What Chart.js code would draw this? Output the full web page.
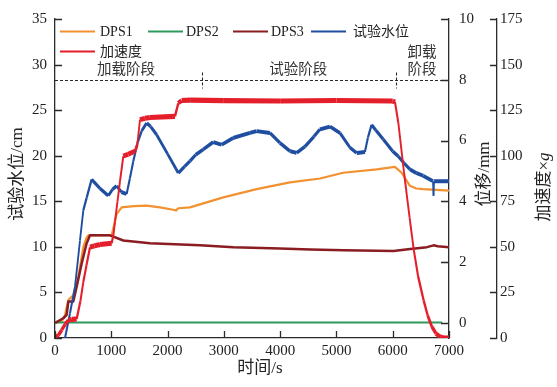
<!DOCTYPE html>
<html>
<head>
<meta charset="utf-8">
<script src="https://cdn.jsdelivr.net/npm/chart.js@4.4.0/dist/chart.umd.min.js"></script>
<style>
  html, body { margin: 0; padding: 0; background: #fff; }
  #wrap { width: 557px; height: 387px; }
</style>
</head>
<body>
<div id="wrap"><canvas id="chart" width="557" height="387"></canvas></div>
<script>
// tick values of the four axes
const timeTicks = [0, 1000, 2000, 3000, 4000, 5000, 6000, 7000];
const levelTicks = [0, 5, 10, 15, 20, 25, 30, 35];
const dispTicks = [0, 2, 4, 6, 8, 10];
const accTicks = [0, 25, 50, 75, 100, 125, 150, 175];

// DPS1 displacement (mm)
const dps1Time = [0, 120, 178, 237, 325, 414, 503, 560, 592, 1007, 1095, 1184, 1400, 1628, 1865, 2100, 2150, 2191, 2398, 2990, 3582, 4174, 4707, 5121, 5714, 6039, 6158, 6306, 6420, 6542, 7000];
const dps1Value = [0, 0.05, 0.26, 0.75, 0.91, 1.51, 2.49, 2.8, 2.88, 2.88, 3.58, 3.8, 3.84, 3.86, 3.8, 3.72, 3.7, 3.77, 3.8, 4.13, 4.4, 4.62, 4.75, 4.94, 5.05, 5.13, 4.94, 4.51, 4.42, 4.4, 4.35];

// DPS2 displacement (mm)
const dps2Time = [0, 2000, 4000, 6880];
const dps2Value = [0.01, 0.01, 0.01, 0.01];

// DPS3 displacement (mm)
const dps3Time = [0, 148, 207, 237, 325, 385, 474, 560, 622, 977, 1214, 1687, 2575, 3168, 3996, 4535, 5127, 6015, 6311, 6607, 6726, 6800, 7000];
const dps3Value = [0, 0.15, 0.26, 0.7, 0.7, 1.19, 1.95, 2.6, 2.88, 2.88, 2.71, 2.62, 2.55, 2.49, 2.45, 2.41, 2.39, 2.36, 2.43, 2.49, 2.55, 2.52, 2.49];

// test water level (cm)
const levelTime = [178, 266, 355, 444, 503, 563, 651, 800, 947, 1020, 1095, 1180, 1273, 1330, 1391, 1470, 1539, 1628, 1700, 1806, 2000, 2191, 2300, 2398, 2500, 2635, 2812, 2960, 3168, 3464, 3582, 3819, 3996, 4174, 4293, 4440, 4600, 4707, 4885, 5062, 5240, 5359, 5506, 5560, 5625, 5700, 5831, 6000, 6098, 6200, 6306, 6420, 6542, 6715, 6725, 6735, 6897, 7000];
const levelValue = [0, 2.7, 5.6, 10.7, 14, 15.4, 17.4, 16.4, 15.6, 16.3, 16.7, 16.0, 15.8, 17.5, 19.4, 21.5, 22.7, 23.6, 23.2, 22.3, 20.2, 18.1, 18.8, 19.4, 20.1, 20.7, 21.5, 21.2, 21.95, 22.5, 22.7, 22.5, 21.4, 20.5, 20.3, 21.0, 22.1, 22.9, 23.2, 22.5, 20.9, 20.3, 20.4, 22, 23.4, 22.8, 21.8, 20.5, 19.95, 19.2, 18.5, 18.1, 17.8, 17.2, 15.6, 17.2, 17.2, 17.2];

// acceleration (g)
const accTime = [0, 60, 120, 180, 237, 300, 385, 450, 503, 560, 622, 700, 800, 1007, 1040, 1066, 1110, 1155, 1214, 1300, 1421, 1462, 1510, 1600, 1687, 2131, 2191, 2250, 2400, 3000, 4000, 5000, 6000, 6040, 6100, 6200, 6300, 6371, 6450, 6549, 6620, 6696, 6770, 6844, 6900, 7000];
const accValue = [0, 1.5, 4.4, 7.5, 9.8, 10.2, 10.4, 20, 30.7, 40, 49.8, 50.5, 51.3, 52, 57, 64, 75, 86, 99.8, 100.8, 102.5, 106, 119.8, 120.5, 121, 121.6, 128.8, 130.3, 130.5, 130.2, 130, 130.3, 130, 129.5, 118, 91, 66, 49, 34, 20.7, 12.5, 6.2, 2.4, 0.6, 0, 0];

const seriesNames = ['DPS1', 'DPS2', 'DPS3', '试验水位', '加速度'];
const phaseNames = ['加载阶段', '试验阶段', '卸载', '阶段'];

const serif = "'Liberation Serif', 'Times New Roman', 'Noto Sans CJK SC', serif";
const axisColor = '#2b2b2b';

function pts(t, v) {
    return t.map((x, i) => ({ x: x, y: v[i] }));
}

// noisy records look thicker where the trace runs flat
function slopeWidth(base, extra) {
    return ctx => {
        const dx = Math.abs(ctx.p1.x - ctx.p0.x);
        const dy = Math.abs(ctx.p1.y - ctx.p0.y);
        const len = Math.hypot(dx, dy) || 1;
        return base + extra * dx / len;
    };
}

function fixTicks(values) {
    return scale => { scale.ticks = values.map(v => ({ value: v })); };
}

const decorPlugin = {
    id: 'decor',
    afterDraw(chart) {
        const ctx = chart.ctx;
        const area = chart.chartArea;
        const sx = chart.scales.x, sy = chart.scales.y, sd = chart.scales.yDisp, sa = chart.scales.yAcc;

        // inward tick marks
        ctx.save();
        ctx.strokeStyle = axisColor;
        ctx.lineWidth = 1.3;
        ctx.beginPath();
        timeTicks.forEach(v => {
            const p = Math.round(sx.getPixelForValue(v)) + 0.5;
            ctx.moveTo(p, area.bottom); ctx.lineTo(p, area.bottom - 7);
        });
        levelTicks.forEach(v => {
            const p = Math.round(sy.getPixelForValue(v)) + 0.5;
            ctx.moveTo(area.left, p); ctx.lineTo(area.left + 7, p);
        });
        dispTicks.forEach(v => {
            const p = Math.round(sd.getPixelForValue(v)) + 0.5;
            ctx.moveTo(sd.left, p); ctx.lineTo(sd.left - 8, p);
        });
        accTicks.forEach(v => {
            const p = Math.round(sa.getPixelForValue(v)) + 0.5;
            ctx.moveTo(sa.left, p); ctx.lineTo(sa.left - 7, p);
        });
        ctx.stroke();

        // phase divider
        const yLine = Math.round(sd.getPixelForValue(8)) + 0.5;
        ctx.setLineDash([3, 2]);
        ctx.lineWidth = 1.1;
        ctx.beginPath();
        ctx.moveTo(area.left, yLine); ctx.lineTo(area.right, yLine);
        [2610, 6050].forEach(t => {
            const p = Math.round(sx.getPixelForValue(t)) + 0.5;
            ctx.moveTo(p, yLine - 8); ctx.lineTo(p, yLine + 8);
        });
        ctx.stroke();
        ctx.setLineDash([]);

        ctx.fillStyle = '#333';
        ctx.font = '14.5px ' + serif;
        ctx.textAlign = 'center';
        ctx.textBaseline = 'middle';
        ctx.fillText(phaseNames[0], sx.getPixelForValue(1260), yLine - 10);
        ctx.fillText(phaseNames[1], sx.getPixelForValue(4320), yLine - 10);
        ctx.fillText(phaseNames[2], sx.getPixelForValue(6520), yLine - 27);
        ctx.fillText(phaseNames[3], sx.getPixelForValue(6520), yLine - 10);

        // legend
        const slots = [[60, 31.5], [148, 31.5], [233, 31.5], [311, 31.5], [60, 51.5]];
        const textGap = [5, 3, 3, 7, 5];
        ctx.textAlign = 'left';
        ctx.font = '14px ' + serif;
        chart.data.datasets.forEach(ds => {
            const i = seriesNames.indexOf(ds.label);
            const [lx, ly] = slots[i];
            ctx.strokeStyle = ds.borderColor;
            ctx.lineWidth = 2;
            ctx.beginPath();
            ctx.moveTo(lx, ly); ctx.lineTo(lx + 35, ly);
            ctx.stroke();
            ctx.fillStyle = '#222';
            ctx.fillText(ds.label, lx + 35 + textGap[i], ly + 1);
        });

        // axis titles
        ctx.fillStyle = '#222';
        ctx.font = '17px ' + serif;
        ctx.textAlign = 'center';
        ctx.fillText('时间/s', 260, 369);
        const vtitle = (text, x, y) => {
            ctx.save();
            ctx.translate(x, y);
            ctx.rotate(-Math.PI / 2);
            ctx.fillText(text, 0, 0);
            ctx.restore();
        };
        vtitle('试验水位/cm', 18, 174);
        vtitle('位移/mm', 485, 174);
        // acceleration title with italic g
        ctx.save();
        ctx.translate(545, 187);
        ctx.rotate(-Math.PI / 2);
        ctx.textAlign = 'left';
        const main = '加速度×';
        const w1 = ctx.measureText(main).width;
        ctx.font = 'italic 17px ' + serif;
        const w2 = ctx.measureText('g').width;
        ctx.font = '17px ' + serif;
        ctx.fillText(main, -(w1 + w2) / 2, 0);
        ctx.font = 'italic 17px ' + serif;
        ctx.fillText('g', -(w1 + w2) / 2 + w1, 0);
        ctx.restore();

        ctx.restore();
    }
};

const tickFont = { family: serif, size: 15 };
const border = { display: true, color: axisColor, width: 1.3 };
const noGrid = { display: false, drawTicks: false };
const plain = v => String(v);

new Chart(document.getElementById('chart').getContext('2d'), {
    type: 'line',
    data: {
        datasets: [
            { label: seriesNames[0], data: pts(dps1Time, dps1Value), yAxisID: 'yDisp', borderColor: '#f2912f', borderWidth: 2.2, order: 4 },
            { label: seriesNames[1], data: pts(dps2Time, dps2Value), yAxisID: 'yDisp', borderColor: '#2f9a5c', borderWidth: 1.8, order: 3 },
            { label: seriesNames[2], data: pts(dps3Time, dps3Value), yAxisID: 'yDisp', borderColor: '#8a1c22', borderWidth: 2.5, order: 2 },
            { label: seriesNames[3], data: pts(levelTime, levelValue), yAxisID: 'y', borderColor: '#1f4ea0', borderWidth: 3,
              segment: { borderWidth: slopeWidth(1.6, 2.4) }, order: 1 },
            { label: seriesNames[4], data: pts(accTime, accValue), yAxisID: 'yAcc', borderColor: '#e41f2b', borderWidth: 3,
              segment: { borderWidth: slopeWidth(1.5, 3.6) }, order: 0 }
        ].map(ds => Object.assign({ pointRadius: 0, fill: false, tension: 0, borderCapStyle: 'butt', borderJoinStyle: 'round' }, ds))
    },
    options: {
        responsive: false,
        animation: false,
        devicePixelRatio: 1,
        layout: { padding: { top: 17, left: 0, right: 0, bottom: 0 } },
        plugins: { legend: { display: false }, tooltip: { enabled: false } },
        scales: {
            x: {
                type: 'linear', min: 0, max: 7000,
                grid: noGrid, border: border,
                ticks: { font: tickFont, color: '#222', padding: 4, maxRotation: 0, autoSkip: false, callback: plain },
                afterBuildTicks: fixTicks(timeTicks),
                afterFit: s => { s.height = 49; }
            },
            y: {
                position: 'left', min: 0, max: 35,
                grid: noGrid, border: border,
                ticks: { font: tickFont, color: '#222', padding: 8, callback: plain },
                afterBuildTicks: fixTicks(levelTicks),
                afterFit: s => { s.width = 55; }
            },
            yDisp: {
                position: 'right', min: -0.5, max: 10,
                grid: noGrid, border: border,
                ticks: { font: tickFont, color: '#222', padding: 10, callback: plain },
                afterBuildTicks: fixTicks(dispTicks),
                afterFit: s => { s.width = 48; }
            },
            yAcc: {
                position: 'right', min: 0, max: 175,
                grid: noGrid, border: border,
                ticks: { font: tickFont, color: '#222', padding: 3, callback: plain },
                afterBuildTicks: fixTicks(accTicks),
                afterFit: s => { s.width = 60; }
            }
        }
    },
    plugins: [decorPlugin]
});
</script>
</body>
</html>
